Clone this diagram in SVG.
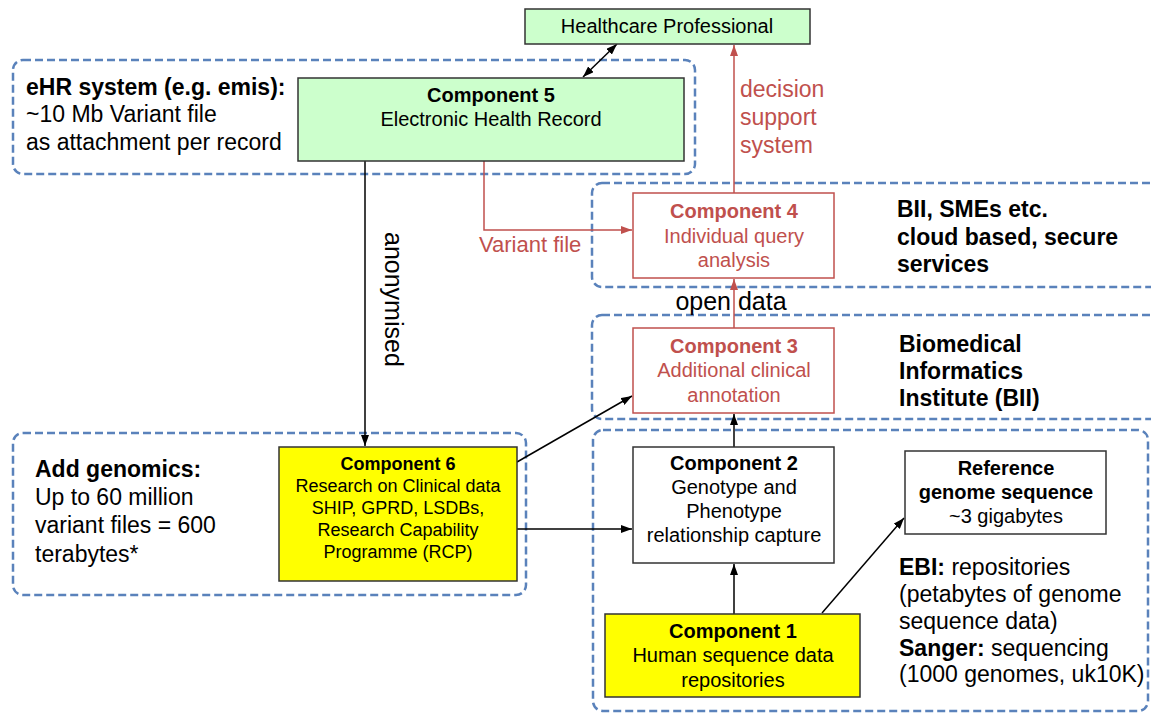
<svg xmlns="http://www.w3.org/2000/svg" width="1151" height="713" viewBox="0 0 1151 713">
<style>
text{font-family:"Liberation Sans",Arial,sans-serif;fill:#000}
.grp{fill:none;stroke:#5a82bb;stroke-width:2.5;stroke-dasharray:8 4}
.box{stroke:#333;stroke-width:1.5}
.green{fill:#ccffcc}
.yellow{fill:#ffff00}
.white{fill:#fff}
.redbox{fill:#fff;stroke:#c0504d;stroke-width:1.5}
.c20{font-size:20px;text-anchor:middle}
.c18{font-size:18px;text-anchor:middle}
.b{font-weight:bold}
.side{font-size:23px}
text.red,tspan.red{fill:#c0504d}
.conn{stroke:#000;stroke-width:1.5;fill:none}
.rconn{stroke:#c0504d;stroke-width:1.5;fill:none}
</style>
<defs>
<marker id="ah" markerUnits="userSpaceOnUse" markerWidth="11" markerHeight="8" refX="11" refY="4" orient="auto-start-reverse"><path d="M0,0 L11,4 L0,8 z" fill="#000"/></marker>
<marker id="ahr" markerUnits="userSpaceOnUse" markerWidth="11" markerHeight="8" refX="11" refY="4" orient="auto"><path d="M0,0 L11,4 L0,8 z" fill="#c0504d"/></marker>
</defs>
<rect width="1151" height="713" fill="#fff"/>

<g id="groups">
<rect class="grp" x="13" y="60" width="682" height="114" rx="10"/>
<rect class="grp" x="592" y="183" width="580" height="104" rx="10"/>
<rect class="grp" x="592" y="315" width="580" height="104" rx="10"/>
<rect class="grp" x="593" y="430" width="555" height="281" rx="10"/>
<rect class="grp" x="13" y="433" width="513" height="162" rx="10"/>
</g>

<g id="labels">
<text class="side" x="26" y="95"><tspan class="b">eHR system (e.g. emis):</tspan><tspan x="26" y="122">~10 Mb Variant file</tspan><tspan x="26" y="150">as attachment per record</tspan></text>
<text class="side" x="35" y="477"><tspan class="b">Add genomics:</tspan><tspan x="35" y="505">Up to 60 million</tspan><tspan x="35" y="533">variant files = 600</tspan><tspan x="35" y="562">terabytes*</tspan></text>
<text class="side b" x="897" y="217">BII, SMEs etc.<tspan x="897" y="245">cloud based, secure</tspan><tspan x="897" y="272">services</tspan></text>
<text class="side b" x="899" y="352">Biomedical<tspan x="899" y="379">Informatics</tspan><tspan x="899" y="406">Institute (BII)</tspan></text>
<text class="side" x="899" y="575"><tspan class="b">EBI:</tspan> repositories<tspan x="899" y="602">(petabytes of genome</tspan><tspan x="899" y="629">sequence data)</tspan><tspan x="899" y="656" class="b">Sanger:</tspan> sequencing<tspan x="899" y="682">(1000 genomes, uk10K)</tspan></text>
</g>

<g id="connectors">
<line class="conn" x1="617" y1="44" x2="583" y2="77" marker-start="url(#ah)" marker-end="url(#ah)"/>
<line class="rconn" x1="734" y1="193" x2="734" y2="45" marker-end="url(#ahr)"/>
<path class="rconn" d="M484 161 V230 H632" marker-end="url(#ahr)"/>
<line class="conn" x1="365" y1="161" x2="365" y2="446" marker-end="url(#ah)"/>
<line class="rconn" x1="734" y1="328" x2="734" y2="279" marker-end="url(#ahr)"/>
<line class="conn" x1="734" y1="447" x2="734" y2="414" marker-end="url(#ah)"/>
<line class="conn" x1="734" y1="614" x2="734" y2="564" marker-end="url(#ah)"/>
<line class="conn" x1="822" y1="613" x2="904" y2="518" marker-end="url(#ah)"/>
<line class="conn" x1="517" y1="462" x2="632" y2="396" marker-end="url(#ah)"/>
<line class="conn" x1="517" y1="529" x2="632" y2="529" marker-end="url(#ah)"/>
<text class="red" x="740" y="97" font-size="23">decision<tspan x="740" y="125">support</tspan><tspan x="740" y="153">system</tspan></text>
<text class="red" x="479" y="252" font-size="22">Variant file</text>
<text x="385" y="232" font-size="25" transform="rotate(90 385 232)">anonymised</text>
<text x="731" y="310" font-size="25" text-anchor="middle">open data</text>
</g>

<g id="hp">
<rect class="box green" x="525" y="9" width="285" height="35"/>
<text class="c20" x="667" y="33">Healthcare Professional</text>
</g>
<g id="c5">
<rect class="box green" x="298" y="78" width="386" height="83"/>
<text class="c20 b" x="491" y="102">Component 5</text>
<text class="c20" x="491" y="126">Electronic Health Record</text>
</g>
<g id="c4">
<rect class="redbox" x="633" y="193" width="201" height="85"/>
<text class="c20 b red" x="734" y="218">Component 4</text>
<text class="c20 red" x="734" y="243">Individual query</text>
<text class="c20 red" x="734" y="267">analysis</text>
</g>
<g id="c3">
<rect class="redbox" x="633" y="328" width="201" height="85"/>
<text class="c20 b red" x="734" y="353">Component 3</text>
<text class="c20 red" x="734" y="377">Additional clinical</text>
<text class="c20 red" x="734" y="402">annotation</text>
</g>
<g id="c2">
<rect class="box white" x="633" y="447" width="201" height="116"/>
<text class="c20 b" x="734" y="470">Component 2</text>
<text class="c20" x="734" y="494">Genotype and</text>
<text class="c20" x="734" y="518">Phenotype</text>
<text class="c20" x="734" y="542">relationship capture</text>
</g>
<g id="ref">
<rect class="box white" x="905" y="451" width="201" height="83"/>
<text class="c20 b" x="1006" y="475">Reference</text>
<text class="c20 b" x="1006" y="499">genome sequence</text>
<text class="c20" x="1006" y="523">~3 gigabytes</text>
</g>
<g id="c1">
<rect class="box yellow" x="605" y="614" width="255" height="83"/>
<text class="c20 b" x="733" y="638">Component 1</text>
<text class="c20" x="733" y="662">Human sequence data</text>
<text class="c20" x="733" y="687">repositories</text>
</g>
<g id="c6">
<rect class="box yellow" x="279" y="447" width="238" height="134"/>
<text class="c18 b" x="398" y="470">Component 6</text>
<text class="c18" x="398" y="492">Research on Clinical data</text>
<text class="c18" x="398" y="514">SHIP, GPRD, LSDBs,</text>
<text class="c18" x="398" y="536">Research Capability</text>
<text class="c18" x="398" y="558">Programme (RCP)</text>
</g>
</svg>
